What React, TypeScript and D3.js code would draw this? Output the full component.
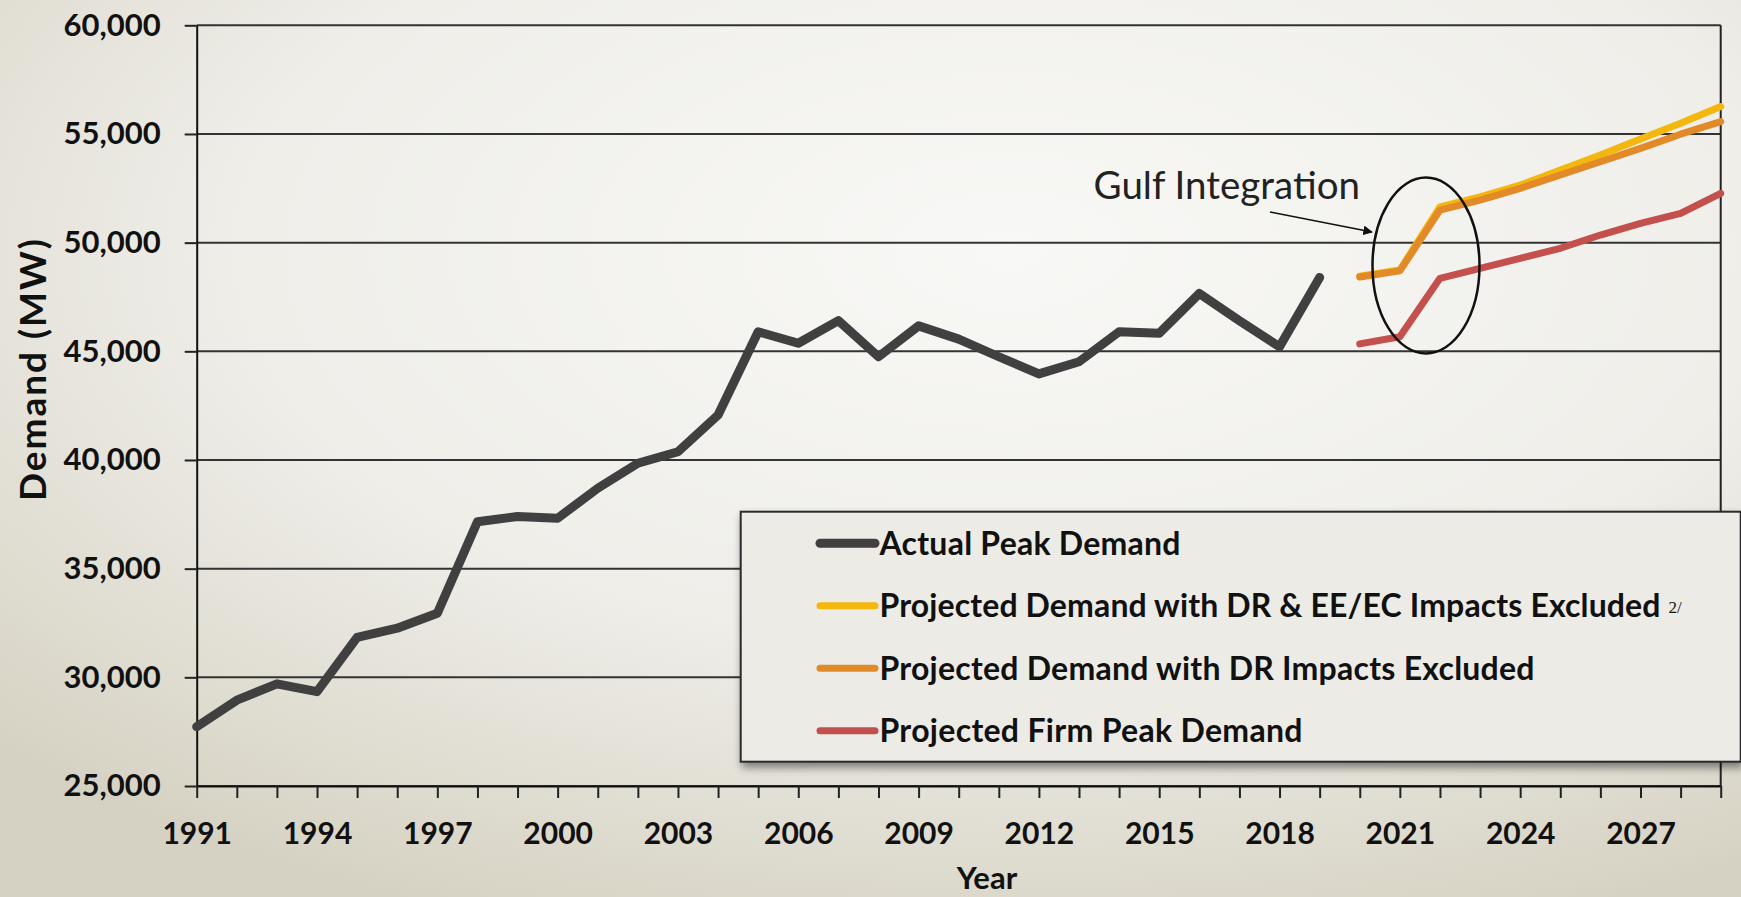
import { useEffect, useRef } from 'react';
import * as d3 from 'd3';

// Actual peak demand, 1991-2019 (MW)
const actualYears = d3.range(1991, 2020);
const actualPeak = [
  27730, 28950, 29700, 29340, 31840, 32260, 32950, 37160, 37400, 37320,
  38700, 39850, 40380, 42070, 45900, 45370, 46410, 44750, 46170, 45560,
  44750, 43960, 44520, 45900, 45830, 47660, 46410, 45210, 48400,
];

// Projections, 2020-2029 (MW)
const projYears = d3.range(2020, 2030);
const projDrEeExcluded = [48450, 48740, 51650, 52110, 52650, 53340, 54030, 54770, 55490, 56260];
const projDrExcluded = [48420, 48700, 51500, 51960, 52500, 53110, 53720, 54340, 54990, 55570];
const projFirm = [45340, 45670, 48360, 48820, 49280, 49740, 50350, 50890, 51350, 52270];

const yTicks = [25000, 30000, 35000, 40000, 45000, 50000, 55000, 60000];
const xTicks = d3.range(1991, 2030);
const xLabelYears = [1991, 1994, 1997, 2000, 2003, 2006, 2009, 2012, 2015, 2018, 2021, 2024, 2027];

const legendItems = [
  { label: 'Actual Peak Demand', color: '#404040', width: 9, len: 301 },
  { label: 'Projected Demand with DR & EE/EC Impacts Excluded', color: '#f4b70d', width: 7, len: 781, note: '2/' },
  { label: 'Projected Demand with DR Impacts Excluded', color: '#e38a28', width: 7, len: 655 },
  { label: 'Projected Firm Peak Demand', color: '#c4504d', width: 7, len: 423 },
];

const W = 1741;
const H = 897;
const FONT = 'Lato, "Open Sans", sans-serif';

function DemandChart() {
  const svgRef = useRef<SVGSVGElement>(null);

  useEffect(() => {
    if (!svgRef.current) return;
    const svg = d3.select(svgRef.current);
    svg.selectAll('*').remove();

    const left = 196.7, right = 1720.7, top = 25.3, bottom = 786;

    const x = d3.scaleLinear().domain([1991, 2029]).range([left, right]);
    const y = d3.scaleLinear().domain([25000, 60000]).range([bottom, top]);

    // background
    const defs = svg.append('defs');
    const grad = defs.append('radialGradient')
      .attr('id', 'bg').attr('cx', '58%').attr('cy', '28%').attr('r', '80%');
    grad.append('stop').attr('offset', '0%').attr('stop-color', '#f8f8f6');
    grad.append('stop').attr('offset', '55%').attr('stop-color', '#efeee9');
    grad.append('stop').attr('offset', '100%').attr('stop-color', '#d6d2c3');

    const shadow = defs.append('filter').attr('id', 'shadow')
      .attr('x', '-5%').attr('y', '-5%').attr('width', '110%').attr('height', '120%');
    shadow.append('feDropShadow')
      .attr('dx', 2).attr('dy', 5).attr('stdDeviation', 4)
      .attr('flood-color', '#000').attr('flood-opacity', 0.45);

    defs.append('marker')
      .attr('id', 'arrow').attr('viewBox', '0 0 10 10')
      .attr('refX', 9).attr('refY', 5)
      .attr('markerWidth', 6).attr('markerHeight', 6)
      .attr('orient', 'auto')
      .append('path').attr('d', 'M0,0 L10,5 L0,10 z').attr('fill', '#111');

    svg.append('rect').attr('width', W).attr('height', H).attr('fill', 'url(#bg)');

    // gridlines
    svg.append('g').selectAll('line')
      .data(yTicks)
      .enter().append('line')
      .attr('x1', left).attr('x2', right)
      .attr('y1', d => y(d)).attr('y2', d => y(d))
      .attr('stroke', '#333').attr('stroke-width', 2);

    // right border
    svg.append('line')
      .attr('x1', right).attr('x2', right).attr('y1', top).attr('y2', bottom)
      .attr('stroke', '#222').attr('stroke-width', 2);

    // y axis
    const yAxis = d3.axisLeft(y)
      .tickValues(yTicks)
      .tickSize(12)
      .tickSizeOuter(0)
      .tickPadding(24)
      .tickFormat(d3.format(','));
    const gy = svg.append('g').attr('transform', `translate(${left},0)`).call(yAxis);
    gy.select('.domain').attr('stroke', '#111').attr('stroke-width', 2);
    gy.selectAll('.tick line').attr('stroke', '#222').attr('stroke-width', 2);
    gy.selectAll('.tick text')
      .attr('fill', '#111').style('font-family', FONT)
      .style('font-weight', 700).style('font-size', '31px');

    // x axis
    const xAxis = d3.axisBottom(x)
      .tickValues(xTicks)
      .tickSize(12)
      .tickSizeOuter(0)
      .tickPadding(25)
      .tickFormat(d => (xLabelYears.includes(+d) ? String(d) : ''));
    const gx = svg.append('g').attr('transform', `translate(0,${bottom})`).call(xAxis);
    gx.select('.domain').attr('stroke', '#111').attr('stroke-width', 2);
    gx.selectAll('.tick line').attr('stroke', '#222').attr('stroke-width', 2);
    gx.selectAll('.tick text')
      .attr('fill', '#111').style('font-family', FONT)
      .style('font-weight', 700).style('font-size', '30px');

    // axis titles
    svg.append('text')
      .attr('transform', 'translate(46,370) rotate(-90)')
      .attr('text-anchor', 'middle')
      .attr('textLength', 262).attr('lengthAdjust', 'spacing')
      .style('font-family', FONT).style('font-weight', 700).style('font-size', '37px')
      .attr('fill', '#111')
      .text('Demand (MW)');

    svg.append('text')
      .attr('x', 987).attr('y', 889)
      .attr('text-anchor', 'middle')
      .style('font-family', FONT).style('font-weight', 700).style('font-size', '31px')
      .attr('fill', '#111')
      .text('Year');

    // lines
    const line = d3.line<[number, number]>()
      .x(d => x(d[0]))
      .y(d => y(d[1]));

    const series = [
      { years: actualYears, values: actualPeak, color: legendItems[0].color, width: 9 },
      { years: projYears, values: projFirm, color: legendItems[3].color, width: 7 },
      { years: projYears, values: projDrEeExcluded, color: legendItems[1].color, width: 7 },
      { years: projYears, values: projDrExcluded, color: legendItems[2].color, width: 7 },
    ];

    series.forEach(s => {
      svg.append('path')
        .datum(s.years.map((yr, i) => [yr, s.values[i]] as [number, number]))
        .attr('fill', 'none')
        .attr('stroke', s.color)
        .attr('stroke-width', s.width)
        .attr('stroke-linejoin', 'round')
        .attr('stroke-linecap', 'round')
        .attr('d', line);
    });

    // annotation
    svg.append('ellipse')
      .attr('cx', 1426).attr('cy', 265.5).attr('rx', 53.5).attr('ry', 88)
      .attr('fill', 'none').attr('stroke', '#111').attr('stroke-width', 2.5);

    svg.append('line')
      .attr('x1', 1270).attr('y1', 212).attr('x2', 1372).attr('y2', 232)
      .attr('stroke', '#111').attr('stroke-width', 1.6)
      .attr('marker-end', 'url(#arrow)');

    svg.append('text')
      .attr('x', 1093.6).attr('y', 199)
      .style('font-family', FONT).style('font-size', '38.5px')
      .attr('fill', '#222')
      .text('Gulf Integration');

    // legend
    const lg = svg.append('g');
    lg.append('rect')
      .attr('x', 740.7).attr('y', 511.7).attr('width', 1000).attr('height', 250)
      .attr('fill', '#ecebe6').attr('stroke', '#2a2a2a').attr('stroke-width', 2)
      .attr('filter', 'url(#shadow)');

    const rowY = d3.scalePoint<number>().domain(d3.range(legendItems.length)).range([543.3, 730.7]);
    legendItems.forEach((item, i) => {
      const cy = rowY(i) as number;
      lg.append('line')
        .attr('x1', 820).attr('x2', 875).attr('y1', cy).attr('y2', cy)
        .attr('stroke', item.color).attr('stroke-width', item.width)
        .attr('stroke-linecap', 'round');
      lg.append('text')
        .attr('x', 879.5).attr('y', cy).attr('dy', '0.36em')
        .attr('textLength', item.len).attr('lengthAdjust', 'spacing')
        .style('font-family', FONT).style('font-weight', 700).style('font-size', '32px')
        .attr('fill', '#111')
        .text(item.label);
      if (item.note) {
        lg.append('text')
          .attr('x', 879.5 + item.len + 8).attr('y', cy + 7)
          .style('font-family', '"Liberation Serif", serif').style('font-size', '17px')
          .attr('fill', '#111')
          .text(item.note);
      }
    });
  }, []);

  return <svg ref={svgRef} width={W} height={H} style={{ display: 'block' }} />;
}

export default function App() {
  return (
    <div style={{ position: 'absolute', left: 0, top: 0, width: W, height: H, overflow: 'hidden' }}>
      <style>{'body{margin:0;overflow:hidden;}'}</style>
      <DemandChart />
    </div>
  );
}
